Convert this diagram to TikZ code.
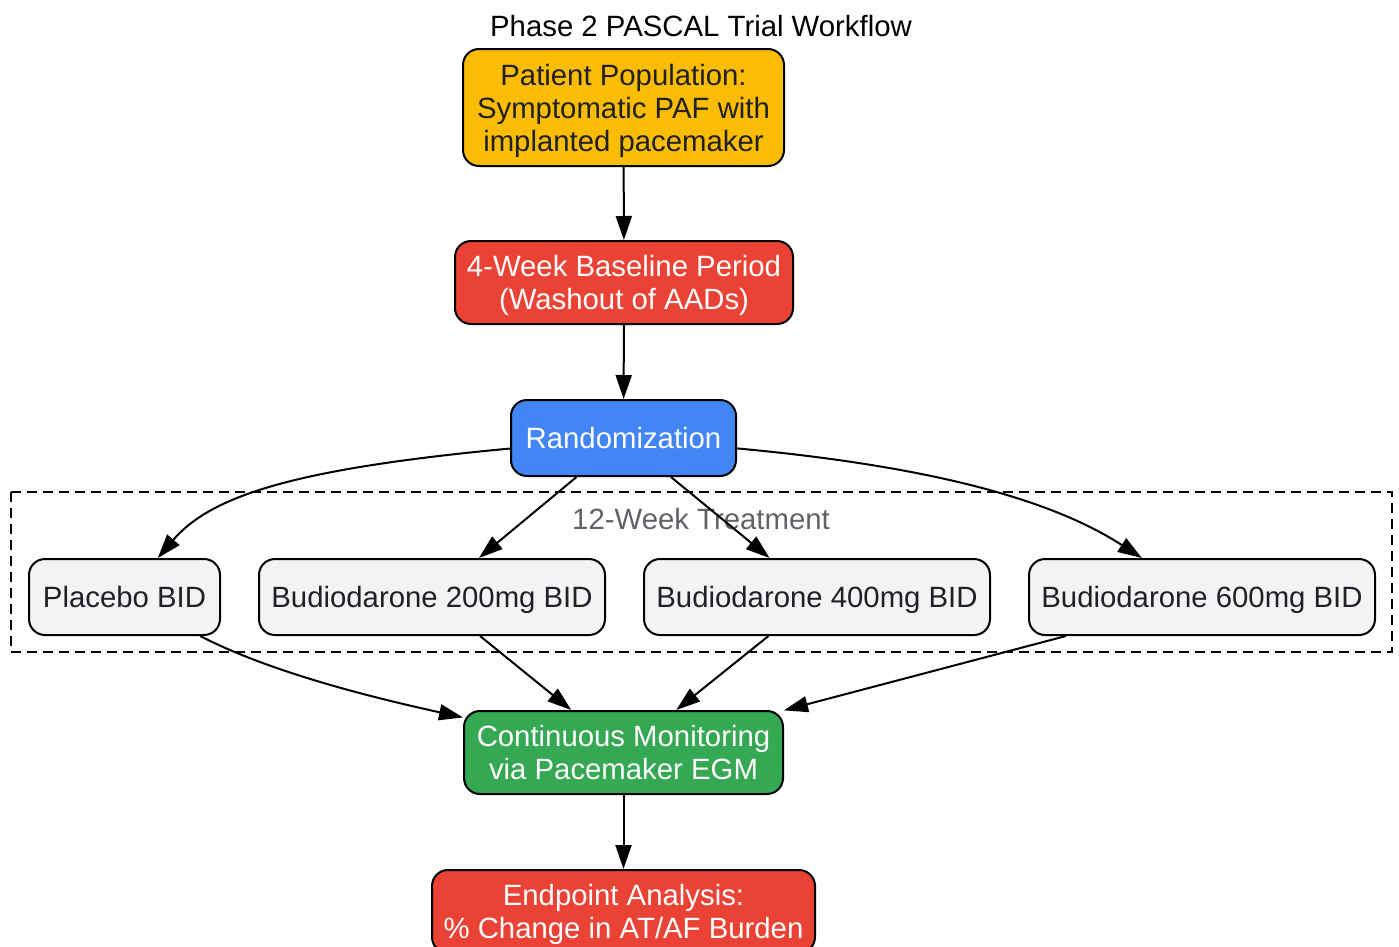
\documentclass[tikz,border=0pt]{standalone}
\usepackage{fontspec}
\setmainfont{Liberation Sans}
\usetikzlibrary{arrows.meta}

\definecolor{popyellow}{HTML}{FBBC04}
\definecolor{stepred}{HTML}{EA4335}
\definecolor{randblue}{HTML}{4285F4}
\definecolor{monigreen}{HTML}{34A853}
\definecolor{armgray}{HTML}{F1F3F4}
\definecolor{darktext}{HTML}{202124}
\definecolor{clustertext}{HTML}{5F6368}

\begin{document}
\begin{tikzpicture}[x=0.75pt, y=-0.75pt, line width=1.5pt,
    >={Triangle[length=18pt,width=12pt]},
    stage/.style={draw, rounded corners=12pt, align=center, inner sep=0pt,
      font=\fontsize{22}{24.75}\selectfont, text depth=0pt, minimum height=62.25pt},
    arm/.style={stage, fill=armgray, text=darktext, minimum height=57pt}
  ]
    % page size of the reference
    \useasboundingbox (0,0) rectangle (1399,946);

    % title
    \node[font=\fontsize{22}{24.75}\selectfont] (title) at (701,26) {Phase 2 PASCAL Trial Workflow};

    % treatment cluster
    \draw[dashed, dash pattern=on 7.5pt off 4.5pt] (11,492) rectangle (1392,652);
    \node[text=clustertext, font=\fontsize{22}{24.75}\selectfont] (cluster) at (701,519) {12-Week Treatment};

    % main stages (top to bottom)
    \node[stage, fill=popyellow, text=darktext, minimum width=240.75pt, minimum height=87.75pt]
      (pop) at (623.5,107.5) {Patient Population:\\Symptomatic PAF with\\implanted pacemaker};
    \node[stage, fill=stepred, text=white, minimum width=253.5pt]
      (base) at (624,282.5) {4-Week Baseline Period\\(Washout of AADs)};
    \node[stage, fill=randblue, text=white, minimum width=168.75pt, minimum height=57pt]
      (rand) at (623.5,438) {Randomization};
    \node[stage, fill=monigreen, text=white, minimum width=239.25pt]
      (moni) at (623.5,752.5) {Continuous Monitoring\\via Pacemaker EGM};
    \node[stage, fill=stepred, text=white, minimum width=287.25pt]
      (endp) at (623.5,911.5) {Endpoint Analysis:\\\% Change in AT/AF Burden};

    % treatment arms
    \node[arm, minimum width=143.25pt] (placebo) at (124.5,597) {Placebo BID};
    \node[arm, minimum width=259.5pt]  (dose200) at (432,597) {Budiodarone 200mg BID};
    \node[arm, minimum width=259.5pt]  (dose400) at (817,597) {Budiodarone 400mg BID};
    \node[arm, minimum width=259.5pt]  (dose600) at (1202,597) {Budiodarone 600mg BID};

    % flow
    \draw[->] (pop) -- (base);
    \draw[->] (base) -- (rand);

    % randomization to arms
    \draw[->] (rand) .. controls (290,469) and (210,497) .. (placebo);
    \draw[->] (rand) -- (dose200);
    \draw[->] (rand) -- (dose400);
    \draw[->] (rand) .. controls (950,468) and (1060,505) .. (dose600);

    % arms to monitoring
    \draw[->] (placebo) .. controls (270,672) and (370,697) .. (moni);
    \draw[->] (dose200) -- (moni);
    \draw[->] (dose400) -- (moni);
    \draw[->] (dose600.196) -- (moni);

    \draw[->] (moni) -- (endp);
  \end{tikzpicture}
\end{document}
